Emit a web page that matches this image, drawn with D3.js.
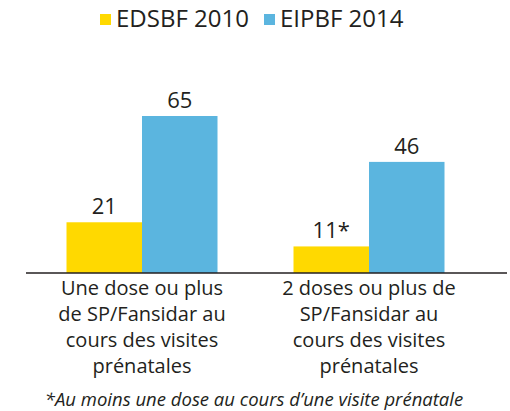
<!DOCTYPE html>
<html>
<head>
<meta charset="utf-8">
<script src="https://cdn.jsdelivr.net/npm/d3@7"></script>
<style>
  body { margin: 0; background: #fff; }
  text { font-family: "Open Sans", sans-serif; fill: #231f20; }
</style>
</head>
<body>
<div id="chart"></div>
<script>
// Grouped bars: TPI coverage, EDSBF 2010 vs EIPBF 2014

const categories = [
  ["Une dose ou plus", "de SP/Fansidar au", "cours des visites", "prénatales"],
  ["2 doses ou plus de", "SP/Fansidar au", "cours des visites", "prénatales"]
];
const seriesNames = ["EDSBF 2010", "EIPBF 2014"];
const seriesColors = ["#ffd900", "#5bb5df"];
const values2010 = [21, 11];
const values2014 = [65, 46];
const valueLabels2010 = ["21", "11*"];
const valueLabels2014 = ["65", "46"];
const footnote = "*Au moins une dose au cours d\u2019une visite prénatale";

const w = 510, h = 411;
const baseY = 273; // axis line

const svg = d3.select("#chart").
append("svg").
attr("width", w).
attr("height", h);

// Scales
const x0 = d3.scaleBand().
domain(d3.range(categories.length)).
range([28.5, 482.5]);

const groupW = 151;
const x1 = d3.scaleBand().
domain(d3.range(seriesNames.length)).
range([0, groupW]);

const y = d3.scaleLinear().
domain([0, 65]).
range([baseY, 116]);

const rows = categories.map((c, i) => ({
  i: i,
  vals: [
    { s: 0, v: values2010[i], label: valueLabels2010[i] },
    { s: 1, v: values2014[i], label: valueLabels2014[i] }
  ]
}));

// Bars
const groups = svg.selectAll("g.group").
data(rows).
join("g").
attr("class", "group").
attr("transform", d => `translate(${x0(d.i) + x0.bandwidth() / 2 - groupW / 2} 0)`);

groups.selectAll("rect").
data(d => d.vals).
join("rect").
attr("x", d => x1(d.s)).
attr("y", d => y(d.v)).
attr("width", x1.bandwidth()).
attr("height", d => baseY - y(d.v)).
attr("fill", d => seriesColors[d.s]);

groups.selectAll("text.value").
data(d => d.vals).
join("text").
attr("class", "value").
attr("x", d => x1(d.s) + x1.bandwidth() / 2).
attr("y", d => y(d.v) - 8).
attr("text-anchor", "middle").
style("font-size", "22px").
text(d => d.label);

// Axis line
svg.append("line").
attr("x1", 26).
attr("x2", 507).
attr("y1", baseY).
attr("y2", baseY).
attr("stroke", "#231f20").
attr("stroke-width", 1.5);

// Category labels
svg.selectAll("text.cat").
data(rows).
join("text").
attr("class", "cat").
attr("text-anchor", "middle").
style("font-size", "20px").
attr("transform", d => `translate(${x0(d.i) + x0.bandwidth() / 2} 295)`).
selectAll("tspan").
data(d => categories[d.i]).
join("tspan").
attr("x", 0).
attr("y", (d, i) => i * 26).
text(d => d);

// Legend
const legend = svg.append("g").
attr("transform", "translate(0 27)");

const legendX = [100, 264];
seriesNames.forEach((name, i) => {
  legend.append("rect").
  attr("x", legendX[i]).
  attr("y", -13).
  attr("width", 11).
  attr("height", 11).
  attr("fill", seriesColors[i]);

  legend.append("text").
  attr("x", legendX[i] + 16).
  attr("y", 0).
  style("font-size", "24px").
  text(name);
});

// Footnote
svg.append("text").
attr("x", w / 2 - 1).
attr("y", 406).
attr("text-anchor", "middle").
style("font-size", "18.5px").
style("font-style", "italic").
text(footnote);
</script>
</body>
</html>
